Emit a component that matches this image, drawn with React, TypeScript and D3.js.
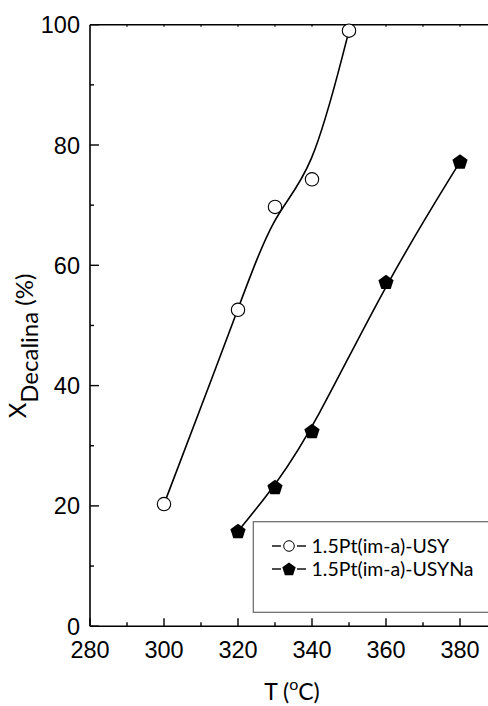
import React from "react";
import * as d3 from "d3";

const tempUSY = [300, 320, 330, 340, 350];
const convUSY = [20.3, 52.6, 69.7, 74.3, 99.0];
const tempUSYNa = [320, 330, 340, 360, 380];
const convUSYNa = [15.8, 23.1, 32.4, 57.2, 77.2];
const xTicks = [280, 300, 320, 340, 360, 380];
const yTicks = [0, 20, 40, 60, 80, 100];
const legendLabels = ["1.5Pt(im-a)-USY", "1.5Pt(im-a)-USYNa"];

const W = 488;
const H = 706;

function pentagon(cx: number, cy: number, r: number) {
  const pts: [number, number][] = [];
  for (let i = 0; i < 5; i++) {
    const a = -Math.PI / 2 + (i * 2 * Math.PI) / 5;
    pts.push([cx + r * Math.cos(a), cy + r * Math.sin(a)]);
  }
  return "M" + pts.map((p) => p.join(",")).join("L") + "Z";
}

export default function App() {
  const x = d3.scaleLinear().domain([280, 390]).range([90, 497]);
  const y = d3.scaleLinear().domain([0, 100]).range([626.2, 24.7]);
  const mk = (xs: number[], ys: number[], beta: number) =>
    d3
      .line<[number, number]>()
      .x((d) => x(d[0]))
      .y((d) => y(d[1]))
      .curve(d3.curveBundle.beta(beta))(xs.map((v, i) => [v, ys[i]] as [number, number])) || "";
  const minorX = d3.range(290, 391, 20);
  const topX = d3.range(290, 391, 10);
  const minorY = d3.range(10, 100, 20);
  const tickFont = "'Liberation Sans', Arial, sans-serif";
  const labFont = "Lato, 'Open Sans', sans-serif";
  return (
    <div style={{ position: "absolute", left: 0, top: 0, width: W, height: H, overflow: "hidden" }}>
      <style>{`body{margin:0}`}</style>
      <svg width={W} height={H} style={{ display: "block", background: "#fff" }}>
        {/* axes */}
        <line x1={x(280)} x2={W} y1={y(0)} y2={y(0)} stroke="#000" strokeWidth={1.6} />
        <line x1={x(280)} x2={W} y1={y(100)} y2={y(100)} stroke="#000" strokeWidth={1.6} />
        <line x1={x(280)} x2={x(280)} y1={y(0)} y2={y(100)} stroke="#000" strokeWidth={1.6} />
        {xTicks.map((t) => (
          <g key={"xt" + t}>
            <line x1={x(t)} x2={x(t)} y1={y(0)} y2={y(0) - 8} stroke="#000" strokeWidth={1.4} />
            <text x={x(t)} y={658} textAnchor="middle" fontFamily={tickFont} fontSize={23.5}>
              {t}
            </text>
          </g>
        ))}
        {minorX.map((t) => (
          <line key={"mx" + t} x1={x(t)} x2={x(t)} y1={y(0)} y2={y(0) - 4} stroke="#000" strokeWidth={1.4} />
        ))}
        {topX.map((t) => (
          <line key={"tx" + t} x1={x(t)} x2={x(t)} y1={y(100)} y2={y(100) + 2} stroke="#000" strokeWidth={1.2} />
        ))}
        {yTicks.map((t) => (
          <g key={"yt" + t}>
            <line x1={x(280)} x2={x(280) + 9} y1={y(t)} y2={y(t)} stroke="#000" strokeWidth={1.4} />
            <text x={80} y={y(t) + 8.5} textAnchor="end" fontFamily={tickFont} fontSize={23.5}>
              {t}
            </text>
          </g>
        ))}
        {minorY.map((t) => (
          <line key={"my" + t} x1={x(280)} x2={x(280) + 4} y1={y(t)} y2={y(t)} stroke="#000" strokeWidth={1.4} />
        ))}
        {/* axis labels */}
        <text transform="translate(26,346) rotate(-90)" textAnchor="middle" fontFamily={labFont} fontSize={24}>
          X<tspan dy={12}>Decalina</tspan>
          <tspan dy={-5}> (%)</tspan>
        </text>
        <text x={292} y={700} textAnchor="middle" fontFamily={labFont} fontSize={23}>
          T (<tspan dy={-10} fontSize={16}>o</tspan>
          <tspan dy={10}>C)</tspan>
        </text>
        {/* series */}
        <path d={mk(tempUSY, convUSY, 0.93)} fill="none" stroke="#000" strokeWidth={1.6} />
        <path d={mk(tempUSYNa, convUSYNa, 0.95)} fill="none" stroke="#000" strokeWidth={1.6} />
        {tempUSY.map((t, i) => (
          <circle key={"c" + i} cx={x(t)} cy={y(convUSY[i])} r={6.7} fill="#fff" stroke="#000" strokeWidth={1.1} />
        ))}
        {tempUSYNa.map((t, i) => (
          <path key={"p" + i} d={pentagon(x(t), y(convUSYNa[i]) + 0.5, 8)} fill="#000" />
        ))}
        {/* legend */}
        <rect x={253.3} y={521.7} width={260} height={90.6} fill="#fff" stroke="#666" strokeWidth={1.2} />
        {[0, 1].map((i) => {
          const cy = 546 + i * 23;
          return (
            <g key={"lg" + i}>
              <line x1={272} x2={281} y1={cy} y2={cy} stroke="#000" strokeWidth={1.4} />
              <line x1={297} x2={306} y1={cy} y2={cy} stroke="#000" strokeWidth={1.4} />
              {i === 0 ? (
                <circle cx={289} cy={cy} r={5.3} fill="#fff" stroke="#000" strokeWidth={1} />
              ) : (
                <path d={pentagon(289, cy + 0.5, 7)} fill="#000" />
              )}
              <text x={311.5} y={cy + 6.5} fontFamily={labFont} fontSize={19.5}>
                {legendLabels[i]}
              </text>
            </g>
          );
        })}
      </svg>
    </div>
  );
}
